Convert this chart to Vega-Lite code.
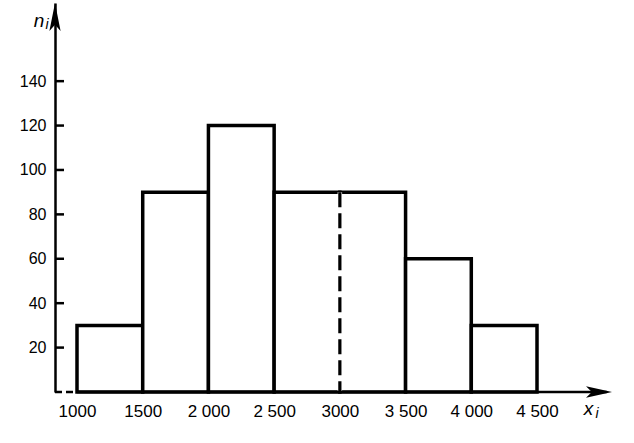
{
  "$schema": "https://vega.github.io/schema/vega-lite/v6.json",
  "width": 557,
  "height": 389,
  "autosize": "none",
  "padding": {"left": 55, "top": 3, "right": 22, "bottom": 51},
  "background": "white",
  "config": {
    "view": {"stroke": null},
    "font": "Liberation Sans",
    "axisX": {
      "domain": false, "ticks": false, "grid": false, "title": null,
      "labelFontSize": 17, "labelColor": "black", "labelPadding": 11,
      "labelOverlap": false, "labelFlush": false, "labelFont": "Liberation Sans"
    },
    "axisY": {
      "grid": false, "title": null,
      "domainColor": "black", "domainWidth": 2.5,
      "ticks": false,
      "labelFontSize": 16, "labelColor": "black", "labelPadding": 9,
      "labelOverlap": false, "labelFont": "Liberation Sans"
    }
  },
  "datasets": {
    "bars": [
      {"start": 1000, "end": 1500, "count": 30},
      {"start": 1500, "end": 2000, "count": 90},
      {"start": 2000, "end": 2500, "count": 120},
      {"start": 2500, "end": 3000, "count": 90},
      {"start": 3000, "end": 3500, "count": 90},
      {"start": 3500, "end": 4000, "count": 60},
      {"start": 4000, "end": 4500, "count": 30}
    ],
    "yticks": [
      {"tick": 20}, {"tick": 40}, {"tick": 60}, {"tick": 80},
      {"tick": 100}, {"tick": 120}, {"tick": 140}
    ]
  },
  "data": {"name": "bars"},
  "layer": [
    {
      "mark": {"type": "rect", "fill": "white", "stroke": "black", "strokeWidth": 3.5},
      "encoding": {
        "x": {
          "field": "start", "type": "quantitative",
          "scale": {"domain": [832.6, 5070.6], "nice": false, "zero": false},
          "axis": {
            "values": [1000, 1500, 2000, 2500, 3000, 3500, 4000, 4500],
            "labelExpr": "datum.value == 1000 ? '1000' : datum.value == 1500 ? '1500' : datum.value == 2000 ? '2 000' : datum.value == 2500 ? '2 500' : datum.value == 3000 ? '3000' : datum.value == 3500 ? '3 500' : datum.value == 4000 ? '4 000' : '4 500'"
          }
        },
        "x2": {"field": "end"},
        "y": {
          "field": "count", "type": "quantitative",
          "scale": {"domain": [0, 175.2], "nice": false},
          "axis": {"values": [20, 40, 60, 80, 100, 120, 140]}
        },
        "y2": {"datum": 0}
      }
    },
    {
      "data": {"name": "yticks"},
      "mark": {"type": "rule", "color": "black", "strokeWidth": 2.5},
      "encoding": {
        "x": {"datum": 832.6, "type": "quantitative"},
        "x2": {"datum": 901},
        "y": {"field": "tick", "type": "quantitative"}
      }
    },
    {
      "data": {"values": [{}]},
      "mark": {"type": "rule", "color": "white", "strokeWidth": 4.5},
      "encoding": {
        "x": {"datum": 3000, "type": "quantitative"},
        "y": {"datum": 90, "type": "quantitative"},
        "y2": {"datum": 0}
      }
    },
    {
      "data": {"values": [{}]},
      "mark": {"type": "rule", "color": "black", "strokeWidth": 3.2, "strokeDash": [15, 6]},
      "encoding": {
        "x": {"datum": 3000, "type": "quantitative"},
        "y": {"datum": 90, "type": "quantitative"},
        "y2": {"datum": 0}
      }
    },
    {
      "data": {"values": [{}]},
      "mark": {"type": "rule", "color": "black", "strokeWidth": 2.5},
      "encoding": {
        "x": {"datum": 1000, "type": "quantitative"},
        "x2": {"datum": 5030},
        "y": {"datum": 0, "type": "quantitative"}
      }
    },
    {
      "data": {"values": [{}]},
      "mark": {"type": "rule", "color": "black", "strokeWidth": 2.5, "strokeDash": [7, 4]},
      "encoding": {
        "x": {"datum": 832.6, "type": "quantitative"},
        "x2": {"datum": 1000},
        "y": {"datum": 0, "type": "quantitative"}
      }
    },
    {
      "data": {"values": [{}]},
      "mark": {"type": "point", "shape": "M0,0L0.4,2L0,1.55L-0.4,2Z", "size": 784, "filled": true, "color": "black", "opacity": 1, "strokeWidth": 0},
      "encoding": {
        "x": {"datum": 832.6, "type": "quantitative"},
        "y": {"datum": 175.2, "type": "quantitative"}
      }
    },
    {
      "data": {"values": [{}]},
      "mark": {"type": "point", "shape": "M0,0L-2,-0.45L-1.55,0L-2,0.45Z", "size": 676, "filled": true, "color": "black", "opacity": 1, "strokeWidth": 0},
      "encoding": {
        "x": {"datum": 5070.6, "type": "quantitative"},
        "y": {"datum": 0, "type": "quantitative"}
      }
    },
    {
      "data": {"values": [{}]},
      "mark": {"type": "text", "text": "n", "font": "Liberation Sans", "fontStyle": "italic", "fontSize": 19, "align": "center", "baseline": "alphabetic", "color": "black"},
      "encoding": {
        "x": {"datum": 711, "type": "quantitative"},
        "y": {"datum": 164.4, "type": "quantitative"}
      }
    },
    {
      "data": {"values": [{}]},
      "mark": {"type": "text", "text": "i", "font": "Liberation Sans", "fontStyle": "italic", "fontSize": 14, "align": "center", "baseline": "alphabetic", "color": "black"},
      "encoding": {
        "x": {"datum": 772, "type": "quantitative"},
        "y": {"datum": 163.5, "type": "quantitative"}
      }
    },
    {
      "data": {"values": [{}]},
      "mark": {"type": "text", "text": "x", "font": "Liberation Sans", "fontStyle": "italic", "fontSize": 19, "align": "center", "baseline": "alphabetic", "color": "black"},
      "encoding": {
        "x": {"datum": 4891.8, "type": "quantitative"},
        "y": {"datum": -10.4, "type": "quantitative"}
      }
    },
    {
      "data": {"values": [{}]},
      "mark": {"type": "text", "text": "i", "font": "Liberation Sans", "fontStyle": "italic", "fontSize": 14, "align": "center", "baseline": "alphabetic", "color": "black"},
      "encoding": {
        "x": {"datum": 4956.5, "type": "quantitative"},
        "y": {"datum": -11.7, "type": "quantitative"}
      }
    }
  ]
}
